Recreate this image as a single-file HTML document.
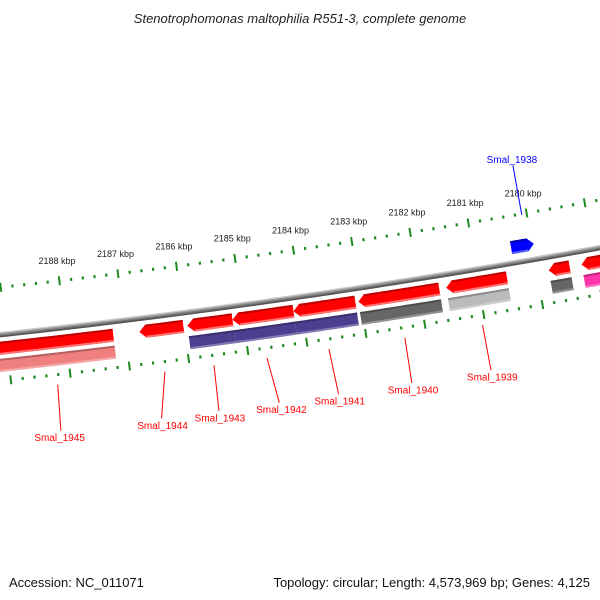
<!DOCTYPE html>
<html><head><meta charset="utf-8"><style>
html,body{margin:0;padding:0;background:#fff;}
svg{display:block;font-family:"Liberation Sans","DejaVu Sans",sans-serif;}
</style></head><body>
<svg id="map" width="600" height="600" viewBox="0 0 600 600">
<text x="300" y="23" text-anchor="middle" font-size="13" font-style="italic" fill="#222">Stenotrophomonas maltophilia R551-3, complete genome</text>
<text x="9" y="587" font-size="13" fill="#111">Accession: NC_011071</text>
<text x="590" y="587" text-anchor="end" font-size="13" fill="#111">Topology: circular; Length: 4,573,969 bp; Genes: 4,125</text>
<g id="layer"></g>
</svg>
<script>
// ---- data ----
const geneNames  = ["Smal_1945","Smal_1944","Smal_1943","Smal_1942","Smal_1941","Smal_1940","Smal_1939","Smal_1938","Smal_1937","Smal_1936"];
const geneStart  = [2187205,2186016,2185183,2184147,2183094,2181666,2180511,2179967,2179441,2177900];
const geneEnd    = [2190200,2186763,2185948,2185183,2184147,2183043,2181547,2180358,2179798,2179237];
const geneStrand = [-1,-1,-1,-1,-1,-1,-1,1,-1,-1];
const geneCog    = ["#f08080",null,"#4b4090","#4b4090","#4b4090","#666666","#bbbbbb",null,"#666666","#ff33aa"];
const geneLabelShown = [true,true,true,true,true,true,true,true,false,false];
const lineStartBp = [2188229,2186421,2185592,2184697,2183649,2182365,2181047,2180085,0,0];
const lineEndBp   = [2188263,2186575,2185611,2184597,2183600,2182366,2181031,2180090,0,0];
const geneLabelBp = [2188297,2186573,2185610,2184579,2183599,2182365,2181030,2180090,0,0];
const tickStart = 2178000, tickEnd = 2190000, tickStep = 200, majorStep = 1000;
const labeledKbp = [2180,2181,2182,2183,2184,2185,2186,2187,2188];

// ---- geometry ----
const cx=-911, cy=-8059, R0=8443;
const phi0=1.39873, kRad=7.029e-6;
function phi(bp){return phi0+(bp-2180000)*kRad;}
function pt(r,bp){const a=phi(bp);return [cx+r*Math.cos(a), cy+r*Math.sin(a)];}
const NS="http://www.w3.org/2000/svg";
const layer=document.getElementById('layer');
function mk(tag,attrs){const e=document.createElementNS(NS,tag);for(const k in attrs)e.setAttribute(k,attrs[k]);return e;}
function arcPts(r,b1,b2,n){const a=[];for(let i=0;i<=n;i++){a.push(pt(r,b1+(b2-b1)*i/n));}return a;}
function ptsStr(a){return a.map(p=>p[0].toFixed(2)+","+p[1].toFixed(2)).join(" ");}

// backbone
const bbColors=["#c8c8c8","#999","#777","#555"];
bbColors.forEach((c,i)=>{
  const pl=mk('polyline',{points:ptsStr(arcPts(R0-2+i*1.3,2170000,2192000,80)),fill:'none',stroke:c,'stroke-width':1.6});
  
  
  layer.appendChild(pl);
});

// ticks
[R0-47,R0+46].forEach((rr)=>{
  for(let bp=tickStart;bp<=tickEnd;bp+=tickStep){
    const major=(bp%majorStep===0);
    const h=major?4.5:1.5;
    const p1=pt(rr-h,bp),p2=pt(rr+h,bp);
    const ln=mk('line',{x1:p1[0],y1:p1[1],x2:p2[0],y2:p2[1],stroke:'#1f8a1f','stroke-width':major?2:2.2});
    
    
    layer.appendChild(ln);
  }
});
labeledKbp.forEach(k=>{
  const p=pt(R0-47-20,k*1000);
  const t=mk('text',{x:p[0],y:p[1]+3,'text-anchor':'middle','font-size':'9',fill:'#222'});
  t.textContent=k+" kbp";
  
  
  layer.appendChild(t);
});

// gene shape
const HEAD=110;
function geneShape(r1,r2,b1,b2,strand){
  const rm=(r1+r2)/2;
  let pts;
  if(strand<0){
    const hb=Math.max(b1,b2-HEAD);
    pts=arcPts(r1,b1,hb,20).concat([pt(rm,b2)]).concat(arcPts(r2,hb,b1,20));
  }else if(strand>0){
    const hb=Math.min(b2,b1+HEAD);
    pts=[pt(rm,b1)].concat(arcPts(r1,hb,b2,20)).concat(arcPts(r2,b2,hb,20));
  }else{
    pts=arcPts(r1,b1,b2,20).concat(arcPts(r2,b2,b1,20));
  }
  return ptsStr(pts);
}
function drawGene(r1,r2,b1,b2,strand,fill,dark,light,name){
  const g=mk('g',{});
  
  
  g.appendChild(mk('polygon',{points:geneShape(r1,r2,b1,b2,strand),fill:fill}));
  const hb = strand<0 ? [b1,b2-HEAD] : strand>0 ? [b1+HEAD,b2] : [b1,b2];
  g.appendChild(mk('polyline',{points:ptsStr(arcPts(r1+1,hb[0],hb[1],20)),fill:'none',stroke:dark,'stroke-width':2}));
  g.appendChild(mk('polyline',{points:ptsStr(arcPts(r2-1,hb[0],hb[1],20)),fill:'none',stroke:light,'stroke-width':2}));
  layer.appendChild(g);
}
function shade(hex,f){const n=parseInt(hex.slice(1),16);let r=n>>16,g=(n>>8)&255,b=n&255;
  const m=v=>Math.max(0,Math.min(255,Math.round(f<0?v*(1+f):v+(255-v)*f)));return `rgb(${m(r)},${m(g)},${m(b)})`;}

for(let i=0;i<geneNames.length;i++){
  const s=geneStart[i],e=geneEnd[i],st=geneStrand[i];
  if(i===7){
    drawGene(R0-22,R0-9,s,e,1,'#0000ff','#0000b0','#5060ff','gene-'+geneNames[i]);
  }else{
    drawGene(R0+7,R0+20,s,e,st,'#ff0000','#c00000','#ff7070','gene-'+geneNames[i]);
    if(geneCog[i]){
      const c=geneCog[i];
      drawGene(R0+24,R0+37,s,e,0,c,shade(c,-0.25),shade(c,0.3),'cog-'+geneNames[i]);
    }
  }
}

// labels
for(let i=0;i<geneNames.length;i++){
  if(!geneLabelShown[i])continue;
  const up=(i===7);
  const col=up?'#0000ff':'#ff0000';
  const a=up?pt(R0-46,lineStartBp[i]):pt(R0+56,lineStartBp[i]);
  const b=up?pt(R0-96,lineEndBp[i]):pt(R0+102,lineEndBp[i]);
  const ln=mk('line',{x1:a[0],y1:a[1],x2:b[0],y2:b[1],stroke:col,'stroke-width':1});
  
  
  layer.appendChild(ln);
  const tp=up?pt(R0-102,geneLabelBp[i]):pt(R0+109,geneLabelBp[i]);
  const t=mk('text',{x:tp[0],y:tp[1]+3.5,'text-anchor':'middle','font-size':'10',fill:col});
  t.textContent=geneNames[i];
  
  
  layer.appendChild(t);
}
</script>
</body></html>
